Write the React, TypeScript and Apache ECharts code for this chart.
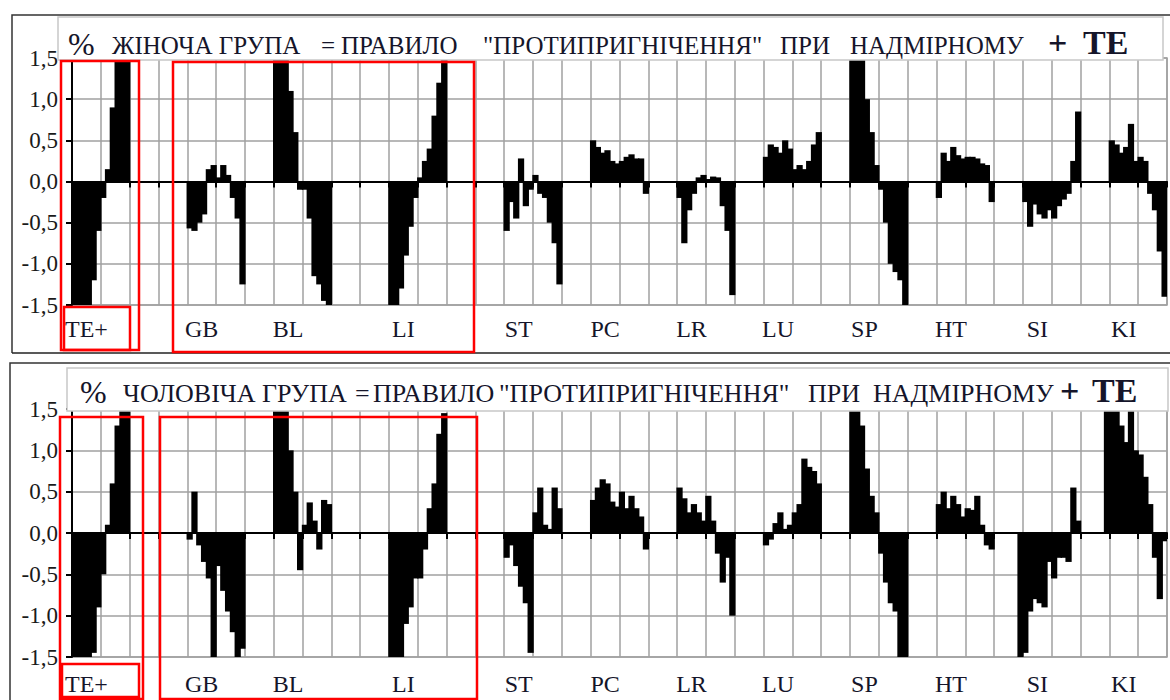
import React, { useEffect, useRef } from 'react';
import * as echarts from 'echarts';

// ---------- data ----------
const groupNames = ['TE+', 'GB', 'BL', 'LI', 'ST', 'PC', 'LR', 'LU', 'SP', 'HT', 'SI', 'KI'];
const groupSlots = [0, 4, 7, 11, 15, 18, 21, 24, 27, 30, 33, 36];
const slotCount = 38;

const yMin = -1.5;
const yMax = 1.5;
const yStep = 0.5;

// female group (top panel), 6 values per grid slot, 38 slots
const femaleValues = [
  -1.5, -1.5, -1.5, -1.5, -1.2, -0.6,
  -0.2, 0.15, 0.9, 1.5, 1.5, 1.5,
  0, 0, 0, 0, 0, 0,
  0, 0, 0, 0, 0, 0,
  -0.57, -0.6, -0.5, -0.4, 0.15, 0.2,
  0.05, 0.2, 0.08, -0.2, -0.45, -1.25,
  0, 0, 0, 0, 0, 0,
  1.5, 1.5, 1.5, 1.1, 0.6, -0.1,
  -0.1, -0.45, -1.15, -1.25, -1.45, -1.5,
  0, 0, 0, 0, 0, 0,
  0, 0, 0, 0, 0, 0,
  -1.5, -1.5, -1.3, -0.9, -0.55, -0.2,
  0.05, 0.25, 0.4, 0.8, 1.2, 1.5,
  0, 0, 0, 0, 0, 0,
  0, 0, 0, 0, 0, 0,
  -0.6, -0.25, -0.45, 0.28, -0.3, -0.1,
  0.08, -0.15, -0.2, -0.5, -0.75, -1.25,
  0, 0, 0, 0, 0, 0,
  0.5, 0.42, 0.35, 0.38, 0.25, 0.22,
  0.25, 0.3, 0.33, 0.28, 0.28, -0.15,
  0, 0, 0, 0, 0, 0,
  -0.2, -0.75, -0.35, -0.15, 0.05, 0.08,
  0.03, 0.06, 0.05, -0.3, -0.6, -1.38,
  0, 0, 0, 0, 0, 0,
  0.3, 0.45, 0.42, 0.35, 0.5, 0.4,
  0.15, 0.2, 0.15, 0.25, 0.45, 0.6,
  0, 0, 0, 0, 0, 0,
  1.5, 1.5, 1.5, 1.0, 0.6, 0.2,
  -0.1, -0.5, -1.0, -1.1, -1.2, -1.5,
  0, 0, 0, 0, 0, 0,
  -0.2, 0.35, 0.25, 0.42, 0.32, 0.28,
  0.3, 0.3, 0.28, 0.22, 0.2, -0.25,
  0, 0, 0, 0, 0, 0,
  -0.25, -0.55, -0.28, -0.4, -0.45, -0.35,
  -0.45, -0.3, -0.22, -0.15, 0.25, 0.85,
  0, 0, 0, 0, 0, 0,
  0.5, 0.45, 0.35, 0.42, 0.7, 0.25,
  0.3, 0.25, -0.15, -0.35, -0.85, -1.4,
];

// male group (bottom panel)
const maleValues = [
  -1.5, -1.5, -1.5, -1.5, -1.45, -0.9,
  -0.5, 0.1, 0.6, 1.3, 1.5, 1.5,
  0, 0, 0, 0, 0, 0,
  0, 0, 0, 0, 0, 0,
  -0.08, 0.5, -0.15, -0.35, -0.55, -1.5,
  -0.4, -0.7, -0.95, -1.2, -1.5, -1.4,
  0, 0, 0, 0, 0, 0,
  1.5, 1.5, 1.5, 1.0, 0.5, -0.45,
  0.1, 0.37, 0.15, -0.2, 0.4, 0.35,
  0, 0, 0, 0, 0, 0,
  0, 0, 0, 0, 0, 0,
  -1.5, -1.5, -1.5, -1.1, -0.9, -0.55,
  -0.55, -0.2, 0.3, 0.6, 1.2, 1.45,
  0, 0, 0, 0, 0, 0,
  0, 0, 0, 0, 0, 0,
  -0.3, -0.15, -0.4, -0.65, -0.85, -1.45,
  0.25, 0.55, 0.1, 0.05, 0.55, 0.3,
  0, 0, 0, 0, 0, 0,
  0.4, 0.55, 0.65, 0.6, 0.38, 0.32,
  0.5, 0.3, 0.45, 0.3, 0.2, -0.2,
  0, 0, 0, 0, 0, 0,
  0.55, 0.42, 0.25, 0.35, 0.25, 0.15,
  0.45, 0.15, -0.25, -0.6, -0.3, -1.0,
  0, 0, 0, 0, 0, 0,
  -0.15, -0.08, 0.12, 0.25, 0.05, 0.1,
  0.25, 0.35, 0.9, 0.8, 0.75, 0.6,
  0, 0, 0, 0, 0, 0,
  1.5, 1.5, 1.3, 0.78, 0.45, 0.25,
  -0.25, -0.6, -0.85, -0.95, -1.5, -1.5,
  0, 0, 0, 0, 0, 0,
  0.35, 0.5, 0.3, 0.45, 0.35, 0.2,
  0.3, 0.28, 0.45, 0.1, -0.15, -0.2,
  0, 0, 0, 0, 0, -1.5,
  -1.45, -0.95, -0.8, -0.85, -0.9, -0.35,
  -0.55, -0.3, -0.3, -0.35, 0.55, 0.15,
  0, 0, 0, 0, 0, 1.5,
  1.5, 1.5, 1.3, 1.1, 1.5, 1.0,
  0.95, 0.68, 0.35, -0.3, -0.8, -0.1,
];

const femaleTitle = ['%', 'ЖІНОЧА ГРУПА', '=', 'ПРАВИЛО', '"ПРОТИПРИГНІЧЕННЯ"', 'ПРИ', 'НАДМІРНОМУ', '+', 'TE'];
const maleTitle = ['%', 'ЧОЛОВІЧА ГРУПА', '=', 'ПРАВИЛО', '"ПРОТИПРИГНІЧЕННЯ"', 'ПРИ', 'НАДМІРНОМУ', '+', 'TE'];

// ---------- layout ----------
const SERIF = '"Liberation Serif", "Times New Roman", serif';
const femaleTitleX = [68, 112, 321, 341, 483, 780, 850, 1048, 1083];
const maleTitleX = [80, 123, 355, 373, 499, 808, 873, 1060, 1092];

function buildSlotLabels(): string[] {
  const arr: string[] = new Array(slotCount).fill('');
  groupSlots.forEach((s, i) => (arr[s] = groupNames[i]));
  return arr;
}

function titleTexts(pieces: string[], xs: number[], cy: number, mainSize: number) {
  return pieces.map((t, i) => {
    const isPct = i === 0;
    const isBold = i >= pieces.length - 2;
    const size = isPct ? 32 : isBold ? 34 : mainSize;
    const font = `${isBold ? 'bold ' : ''}${size}px ${SERIF}`;
    return {
      type: 'text',
      z: 110,
      x: xs[i],
      y: isBold ? cy - 3 : isPct ? cy - 1 : cy,
      style: {
        text: t,
        font,
        fill: '#15152a',
        align: 'left',
        verticalAlign: 'middle',
        textAlign: 'left',
        textVerticalAlign: 'middle',
      },
    };
  });
}

function redRect(x1: number, y1: number, x2: number, y2: number) {
  return {
    type: 'rect',
    z: 120,
    shape: { x: x1, y: y1, width: x2 - x1, height: y2 - y1 },
    style: { fill: 'transparent', stroke: '#ff0000', lineWidth: 2.5 },
  };
}

function line(x1: number, y1: number, x2: number, y2: number, color: string, w: number) {
  return { type: 'line', z: 105, shape: { x1, y1, x2, y2 }, style: { stroke: color, lineWidth: w } };
}

export default function App() {
  const ref = useRef<HTMLDivElement>(null);

  useEffect(() => {
    if (!ref.current) return;
    const chart = echarts.init(ref.current, null, { renderer: 'svg' });
    const slotLabels = buildSlotLabels();
    const barCats = femaleValues.map((_, i) => String(i));

    const grids = [
      { left: 72, top: 58, width: 1095, height: 247 },
      { left: 72, top: 409, width: 1095, height: 248 },
    ];
    const labelMargins = [12, 15];

    const xAxes: any[] = [];
    const yAxes: any[] = [];
    grids.forEach((_, g) => {
      xAxes.push({
        gridIndex: g,
        type: 'category',
        position: 'bottom',
        data: slotLabels,
        axisLine: { show: false, onZero: false },
        axisTick: { show: false },
        axisLabel: {
          interval: 0,
          margin: labelMargins[g],
          fontSize: 24,
          fontFamily: SERIF,
          color: '#15152a',
        },
        splitLine: { show: true, interval: 0, lineStyle: { color: '#a0a0a0', width: 1.5 } },
      });
      xAxes.push({
        gridIndex: g,
        type: 'category',
        position: 'top',
        data: barCats,
        axisLine: { show: true, onZero: true, lineStyle: { color: '#000', width: 2 } },
        axisTick: { show: true, interval: 5, inside: true, length: 6, lineStyle: { color: '#000', width: 2 } },
        axisLabel: { show: false },
        splitLine: { show: false },
      });
      yAxes.push({
        gridIndex: g,
        type: 'value',
        min: yMin,
        max: yMax,
        interval: yStep,
        axisLine: { show: true, onZero: false, lineStyle: { color: '#000', width: 2 } },
        axisTick: { show: true, length: 6, lineStyle: { color: '#000', width: 2 } },
        axisLabel: {
          margin: 14,
          fontSize: 23,
          fontFamily: SERIF,
          color: '#1a1a1a',
          formatter: (v: number) => v.toFixed(1).replace('.', ','),
        },
        splitLine: { show: true, lineStyle: { color: '#a0a0a0', width: 1.5 } },
      });
    });

    const elements: any[] = [
      // outer frames
      { type: 'polyline', z: 105, shape: { points: [[12, 353], [12, 15], [1170, 15]] }, style: { stroke: '#333', lineWidth: 1.5, fill: 'none' } },
      line(12, 353, 1170, 353, '#222', 1.5),
      { type: 'polyline', z: 105, shape: { points: [[10, 700], [10, 363], [1170, 363]] }, style: { stroke: '#333', lineWidth: 1.5, fill: 'none' } },
      // title boxes
      { type: 'rect', z: 108, shape: { x: 58, y: 17, width: 1105, height: 43 }, style: { fill: '#fff', stroke: '#c8c8c8', lineWidth: 1.5 } },
      { type: 'rect', z: 108, shape: { x: 67, y: 368, width: 1101, height: 43 }, style: { fill: '#fff', stroke: '#c8c8c8', lineWidth: 1.5 } },
      ...titleTexts(femaleTitle, femaleTitleX, 45, 25),
      ...titleTexts(maleTitle, maleTitleX, 393, 26),
      // red highlight rectangles, top
      redRect(61, 61, 139, 350),
      redRect(64, 307, 130, 350),
      redRect(173, 62, 474, 352),
      // red highlight rectangles, bottom
      redRect(60, 417, 143, 699),
      redRect(62, 664, 139, 697),
      redRect(160, 417, 477, 699),
    ];

    const barStyle = { color: '#000' };

    chart.setOption({
      animation: false,
      backgroundColor: '#fff',
      grid: grids.map((g) => ({ ...g, show: true, borderColor: '#a0a0a0', borderWidth: 1.5, backgroundColor: 'transparent' })),
      xAxis: xAxes,
      yAxis: yAxes,
      series: [
        {
          type: 'bar',
          xAxisIndex: 1,
          yAxisIndex: 0,
          data: femaleValues,
          barWidth: '130%',
          itemStyle: barStyle,
          silent: true,
        },
        {
          type: 'bar',
          xAxisIndex: 3,
          yAxisIndex: 1,
          data: maleValues,
          barWidth: '130%',
          itemStyle: barStyle,
          silent: true,
        },
      ],
      graphic: { elements },
    });

    return () => chart.dispose();
  }, []);

  return (
    <div
      ref={ref}
      style={{ position: 'absolute', left: 0, top: 0, width: 1170, height: 700, background: '#fff' }}
    />
  );
}
